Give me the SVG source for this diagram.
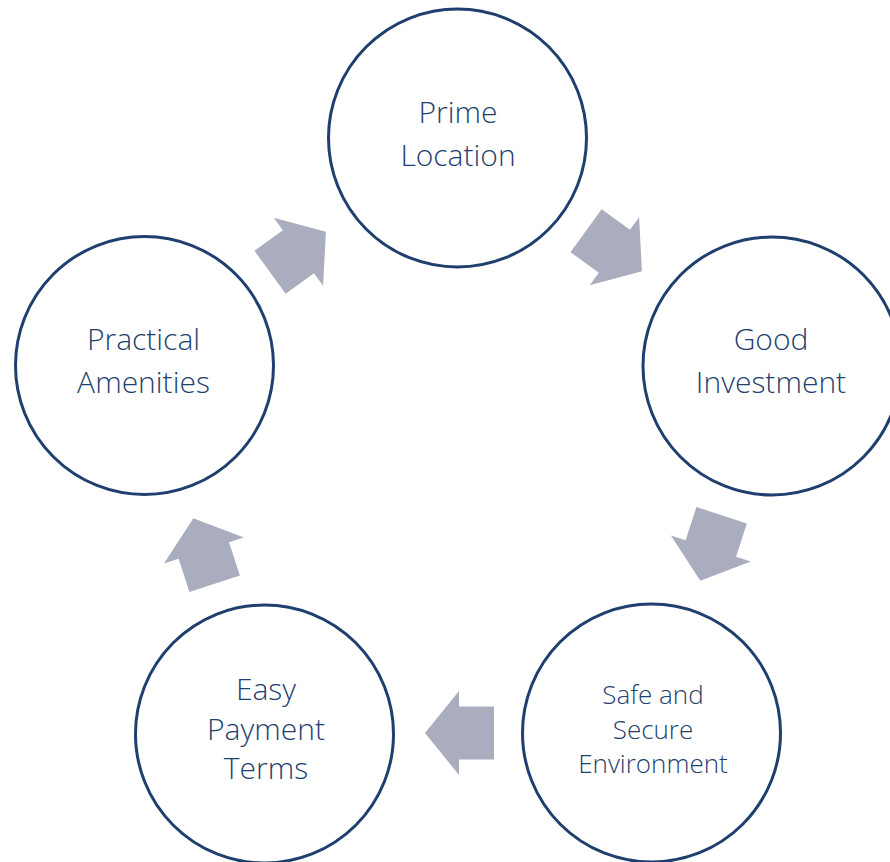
<svg xmlns="http://www.w3.org/2000/svg" width="890" height="862" viewBox="0 0 890 862">
<style>
.node{fill:#ffffff;stroke:#1f3f6e;stroke-width:3}
.lbl{font-family:"Open Sans","Noto Sans","Liberation Sans",sans-serif;font-weight:300;font-size:30px;fill:#1f3f6e;text-anchor:middle;font-variant-ligatures:none}
.sm{font-size:26px}
.arr{fill:#a9adbd}
</style>
<defs>
<path id="ar" d="M -34.5,-26.5 L 0.5,-26.5 L 0.5,-42 L 34.5,0 L 0.5,42 L 0.5,26.5 L -34.5,26.5 Z"/>
</defs>
<rect width="890" height="862" fill="#ffffff"/>
<g id="connectors">
<use href="#ar" class="arr" transform="translate(298,252) rotate(-36)"/>
<use href="#ar" class="arr" transform="translate(614,251) rotate(36)"/>
<use href="#ar" class="arr" transform="translate(711,548) rotate(108)"/>
<use href="#ar" class="arr" transform="translate(459.5,733) rotate(180)"/>
<use href="#ar" class="arr" transform="translate(204,551) rotate(-108)"/>
</g>
<g id="prime">
<circle class="node" cx="457.5" cy="138" r="129"/>
<text class="lbl" x="458" y="123">Prime</text>
<text class="lbl" x="458" y="166">Location</text>
</g>
<g id="good">
<circle class="node" cx="772" cy="366" r="129"/>
<text class="lbl" x="771" y="350">Good</text>
<text class="lbl" x="771" y="393">Investment</text>
</g>
<g id="safe">
<circle class="node" cx="651.5" cy="733" r="129"/>
<text class="lbl sm" x="653" y="704">Safe and</text>
<text class="lbl sm" x="653" y="738.5">Secure</text>
<text class="lbl sm" x="653" y="773">Environment</text>
</g>
<g id="easy">
<circle class="node" cx="264.5" cy="734" r="129"/>
<text class="lbl" x="266" y="700">Easy</text>
<text class="lbl" x="266" y="739.5">Payment</text>
<text class="lbl" x="266" y="779">Terms</text>
</g>
<g id="practical">
<circle class="node" cx="144.5" cy="365.5" r="129"/>
<text class="lbl" x="143.5" y="350">Practical</text>
<text class="lbl" x="143.5" y="393">Amenities</text>
</g>
</svg>
